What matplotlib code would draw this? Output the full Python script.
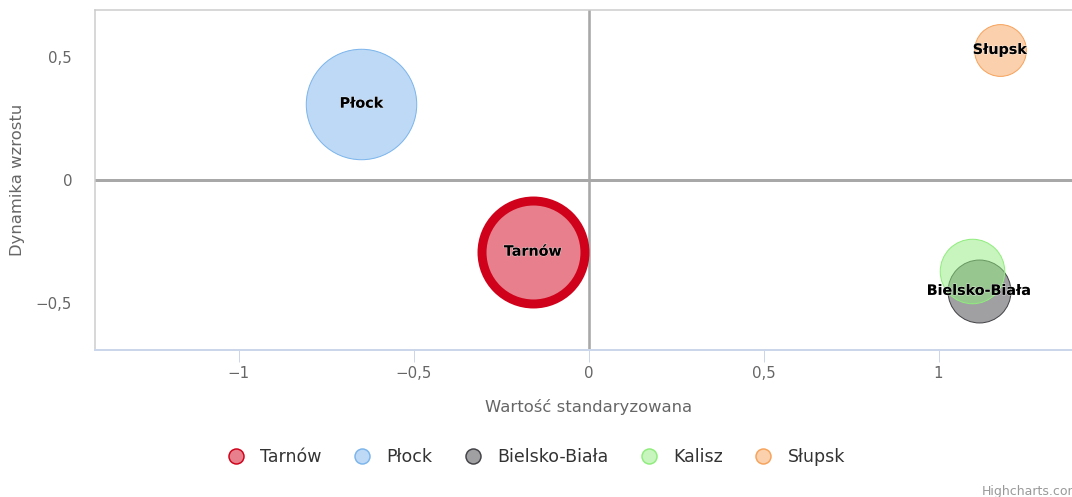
import matplotlib
matplotlib.use("Agg")
import matplotlib.pyplot as plt
import matplotlib.patheffects as pe
from matplotlib.colors import to_rgba
from matplotlib.lines import Line2D
from matplotlib.ticker import FixedLocator, FuncFormatter

# data: one bubble per city
cities = ["Tarnów", "Płock", "Bielsko-Biała", "Kalisz", "Słupsk"]
std_value = [-0.159, -0.649, 1.115, 1.095, 1.175]   # Wartość standaryzowana
growth = [-0.291, 0.310, -0.450, -0.371, 0.528]     # Dynamika wzrostu
bubble_z = [2.65, 3.05, 0.99, 1.04, 0.67]           # bubble size value
show_label = [True, True, True, False, True]        # Kalisz label hidden (overlap)
colors = ["#d0021b", "#7cb5ec", "#434348", "#90ed7d", "#f7a35c"]
edge_px = [9, 1, 1, 1, 1]

x_ticks = [-1, -0.5, 0, 0.5, 1]
y_ticks = [-0.5, 0, 0.5]

DPI = 100
PX = 72 / DPI           # one pixel in points
W, H = 1072, 497

fig = plt.figure(figsize=(W / DPI, H / DPI), dpi=DPI)
ax = fig.add_axes([95 / W, 147 / H, 987 / W, 340 / H])
ax.set_xlim(-1.41, 1.41)
ax.set_ylim(-0.69, 0.69)

# zero reference lines
ax.axhline(0, color="#a8a8a8", lw=3 * PX, zorder=1)
ax.axvline(0, color="#a8a8a8", lw=2.6 * PX, zorder=1)

for name, x, y, z, c, lw, lab in zip(cities, std_value, growth, bubble_z,
                                     colors, edge_px, show_label):
    s = 4 * z * 1000 * PX ** 2
    ax.scatter(x, y, s=s, facecolor=to_rgba(c, 0.5), edgecolor=c,
               linewidth=lw * PX, zorder=3)
    if lab:
        ax.text(x, y, name, ha="center", va="center", fontsize=10.3,
                fontweight="bold", color="black", zorder=5,
                path_effects=[pe.withStroke(linewidth=0.8,
                                            foreground=(1, 1, 1, 0.6))])

fmt = FuncFormatter(lambda v, _: f"{v:g}".replace(".", ",").replace("-", "\u2212"))
ax.xaxis.set_major_locator(FixedLocator(x_ticks))
ax.yaxis.set_major_locator(FixedLocator(y_ticks))
ax.xaxis.set_major_formatter(fmt)
ax.yaxis.set_major_formatter(fmt)

ax.tick_params(axis="x", length=12 * PX, width=PX, color="#ccd6eb",
               labelcolor="#666666", labelsize=10.8, pad=3)
ax.tick_params(axis="y", length=0, labelcolor="#666666", labelsize=10.8,
               pad=23 * PX)

for side in ("left", "top"):
    ax.spines[side].set_color("#cccccc")
    ax.spines[side].set_linewidth(1.5 * PX)
ax.spines["bottom"].set_color("#ccd6eb")
ax.spines["bottom"].set_linewidth(2 * PX)
ax.spines["right"].set_visible(False)

ax.set_xlabel("Wartość standaryzowana", fontsize=11.8, color="#666666")
ax.xaxis.label.set_va("center")
ax.xaxis.set_label_coords(0.5, -(406.7 - 350) / 340)
ax.set_ylabel("Dynamika wzrostu", fontsize=11.8, color="#666666")
ax.yaxis.label.set_va("center")
ax.yaxis.set_label_coords((18 - 95) / 987, 0.5)

handles = [Line2D([], [], ls="none", marker="o", markersize=15 * PX,
                  markerfacecolor=to_rgba(c, 0.5), markeredgecolor=c,
                  markeredgewidth=1.5 * PX) for c in colors]
fig.legend(handles, cities, loc="center", bbox_to_anchor=(0.5, 40 / H),
           ncol=5, frameon=False, fontsize=12.5, labelcolor="#333333",
           handlelength=1.0, handletextpad=0.88, columnspacing=1.85)

fig.text(982 / W, 1 - 492 / H, "Highcharts.com", fontsize=9,
         color="#999999", ha="left", va="center")

fig.savefig("out.png", dpi=DPI)
